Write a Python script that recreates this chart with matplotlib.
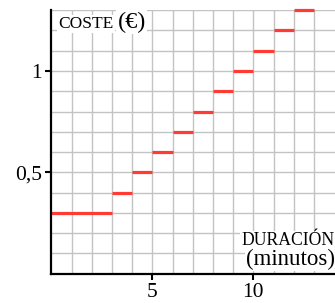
import matplotlib
matplotlib.use("Agg")
import matplotlib.pyplot as plt

# ── Datos: coste por tramo de duración ────────────────────
tramo_inicio = [0, 3, 4, 5, 6, 7, 8, 9, 10, 11, 12]
tramo_fin = [3, 4, 5, 6, 7, 8, 9, 10, 11, 12, 13]
coste = [0.3, 0.4, 0.5, 0.6, 0.7, 0.8, 0.9, 1.0, 1.1, 1.2, 1.3]

x_ticks = [5, 10]
y_ticks = [0.5, 1.0]
y_tick_labels = ["0,5", "1"]

plt.rcParams["font.family"] = ["Liberation Serif", "DejaVu Serif"]

fig = plt.figure(figsize=(3.35, 3.03), dpi=100)
ax = fig.add_axes([51.3 / 335, 29.4 / 303, 1 - 51.3 / 335, 263.4 / 303])

ax.set_xlim(0, 14.04)
ax.set_ylim(0, 1.3)

# cuadrícula fina
for gx in range(1, 14):
    ax.axvline(gx, color="#c3c3c3", lw=1.0, zorder=1)
for k in range(1, 14):
    ax.axhline(k / 10, color="#c3c3c3", lw=1.0, zorder=1)

ax.hlines(coste, tramo_inicio, tramo_fin, colors="#ff3b33", lw=2.3,
          zorder=3, clip_on=False)

ax.spines["top"].set_visible(False)
ax.spines["right"].set_visible(False)
for s in ("left", "bottom"):
    ax.spines[s].set_linewidth(1.6)
    ax.spines[s].set_zorder(4)

ax.set_xticks(x_ticks)
ax.set_yticks(y_ticks)
ax.set_yticklabels(y_tick_labels)
ax.tick_params(length=4.5, width=1.5, labelsize=15.5, pad=2)

caja = dict(facecolor="white", edgecolor="none", pad=1.0)
ax.text(0.33, 1.212, "COSTE", fontsize=12.5, va="baseline", ha="left",
        bbox=caja, zorder=5)
ax.text(3.28, 1.212, "(€)", fontsize=17.5, va="baseline", ha="left",
        bbox=caja, zorder=5)
ax.text(14.04, 0.141, "DURACIÓN", fontsize=12.7, va="baseline", ha="right",
        bbox=caja, zorder=5)
ax.text(14.04, 0.042, "(minutos)", fontsize=16.5, va="baseline", ha="right",
        bbox=caja, zorder=5)

fig.savefig("out.png", dpi=100)
